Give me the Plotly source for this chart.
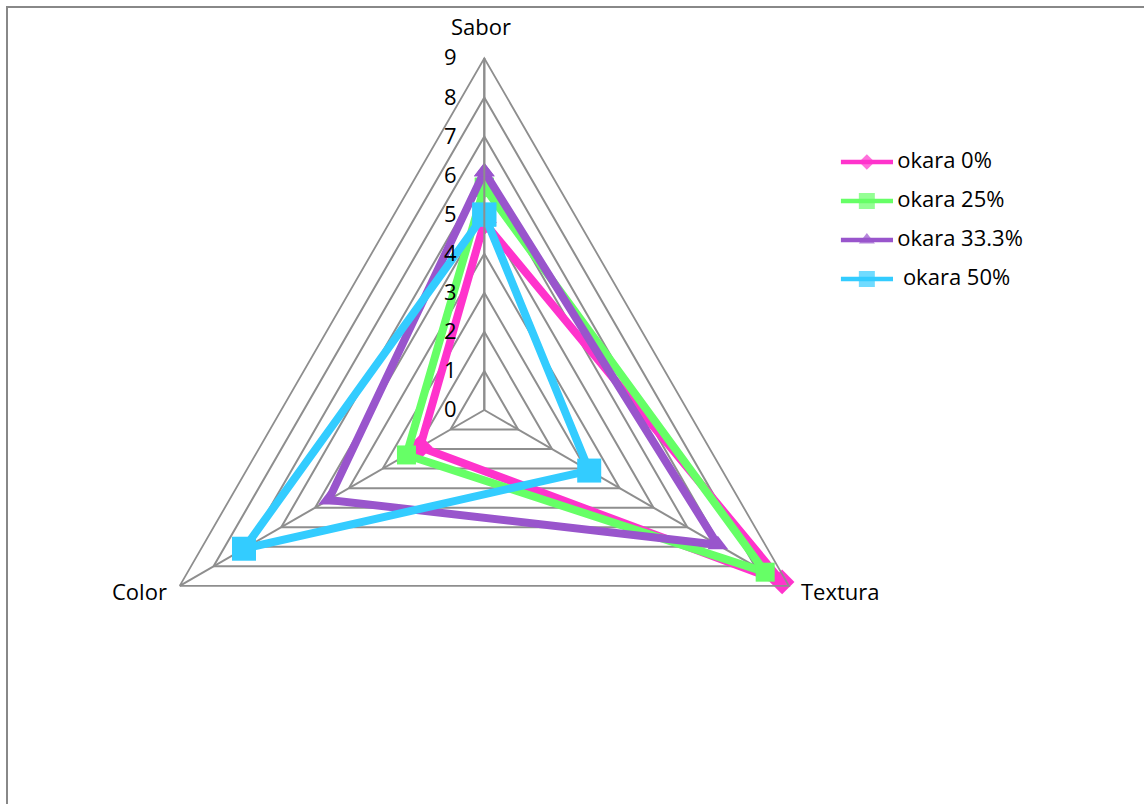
import plotly.graph_objects as go

# Sensory attributes (angular categories) and panel scores per formulation
attributes = ["Sabor", "Textura", "Color"]
okara_0 = [4.8, 8.8, 1.9]
okara_25 = [5.7, 8.3, 2.3]
okara_33 = [6.1, 6.9, 4.6]
okara_50 = [5.0, 3.1, 7.1]
series_names = ["okara 0%", "okara 25%", "okara 33.3%", "\u00a0okara 50%"]
radial_ticks = list(range(0, 10))

W, H = 1144, 804
FONT = "Open Sans"
FS = 22

styles = [
    dict(color="#FF33CC", symbol="diamond", size=19, key_size=12),
    dict(color="#66FF66", symbol="square", size=19, key_size=16),
    dict(color="#9955CC", symbol="triangle-up", size=18, key_size=14),
    dict(color="#33CCFF", symbol="square", size=24, key_size=16),
]

fig = go.Figure()

for name, vals, st in zip(series_names, [okara_0, okara_25, okara_33, okara_50], styles):
    fig.add_trace(go.Scatterpolar(
        r=vals + vals[:1],
        theta=attributes + attributes[:1],
        mode="lines+markers",
        name=name,
        line=dict(color=st["color"], width=8),
        marker=dict(symbol=st["symbol"], size=st["size"], color=st["color"],
                    line=dict(width=0)),
        showlegend=False,
    ))

# Legend key: short line with a marker in the middle, name to the right
for i, (name, st) in enumerate(zip(series_names, styles)):
    fig.add_trace(go.Scatter(
        x=[0, 0.5, 1], y=[i, i, i],
        mode="lines+markers",
        line=dict(color=st["color"], width=4.5),
        marker=dict(symbol=st["symbol"], size=[0, st["key_size"], 0],
                    color=st["color"], line=dict(width=0)),
        cliponaxis=False,
        xaxis="x", yaxis="y",
        showlegend=False,
        hoverinfo="skip",
    ))
    fig.add_trace(go.Scatter(
        x=[1.08], y=[i],
        mode="text",
        text=[name],
        textposition="middle right",
        textfont=dict(family=FONT, size=FS, color="black"),
        cliponaxis=False,
        xaxis="x", yaxis="y",
        showlegend=False,
        hoverinfo="skip",
    ))

cx, cy, R = 484.3, 410.0, 351.7
grid = "#8E8E8E"
key_px = 52.3  # length of one legend-key line

# Attribute names around the triangle
label_annotations = [
    dict(text="Sabor", x=481 / W, y=1 - 26 / H, xanchor="center", yanchor="middle"),
    dict(text="Textura", x=799 / W, y=1 - 591 / H, xanchor="left", yanchor="middle"),
    dict(text="Color", x=169 / W, y=1 - 591 / H, xanchor="right", yanchor="middle"),
]
for a in label_annotations:
    a.update(xref="paper", yref="paper", showarrow=False,
             font=dict(family=FONT, size=FS, color="black"))

fig.update_layout(
    width=W, height=H,
    margin=dict(l=0, r=0, t=0, b=0),
    paper_bgcolor="white",
    plot_bgcolor="white",
    showlegend=False,
    font=dict(family=FONT, size=FS, color="black"),
    polar=dict(
        domain=dict(x=[(cx - R) / W, (cx + R) / W],
                    y=[1 - (cy + R) / H, 1 - (cy - R) / H]),
        bgcolor="white",
        gridshape="linear",
        radialaxis=dict(
            range=[0, 9], tickvals=radial_ticks, ticktext=[str(t) for t in radial_ticks],
            angle=90, side="counterclockwise",
            showline=True, linecolor=grid, linewidth=2,
            gridcolor=grid, gridwidth=1.8,
            ticks="outside", ticklen=19, tickcolor="rgba(0,0,0,0)",
            tickfont=dict(family=FONT, size=FS, color="black"),
            tickangle=90,
        ),
        angularaxis=dict(
            direction="clockwise", rotation=90,
            categoryarray=attributes, categoryorder="array",
            showline=True, linecolor=grid, linewidth=1.8,
            gridcolor=grid, gridwidth=1.8,
            ticks="", showticklabels=False,
        ),
    ),
    xaxis=dict(domain=[840.7 / W, (840.7 + 4 * key_px) / W], range=[0, 4],
               visible=False, fixedrange=True),
    yaxis=dict(domain=[1 - 298.5 / H, 1 - 142.5 / H], range=[3.5, -0.5], visible=False,
               fixedrange=True),
    annotations=label_annotations,
    shapes=[dict(type="rect", xref="paper", yref="paper",
                 x0=7 / W, x1=1.05, y0=-0.05, y1=1 - 7 / H,
                 line=dict(color="#888888", width=2), fillcolor="rgba(0,0,0,0)",
                 layer="below")],
)

fig.write_html("out.html")
